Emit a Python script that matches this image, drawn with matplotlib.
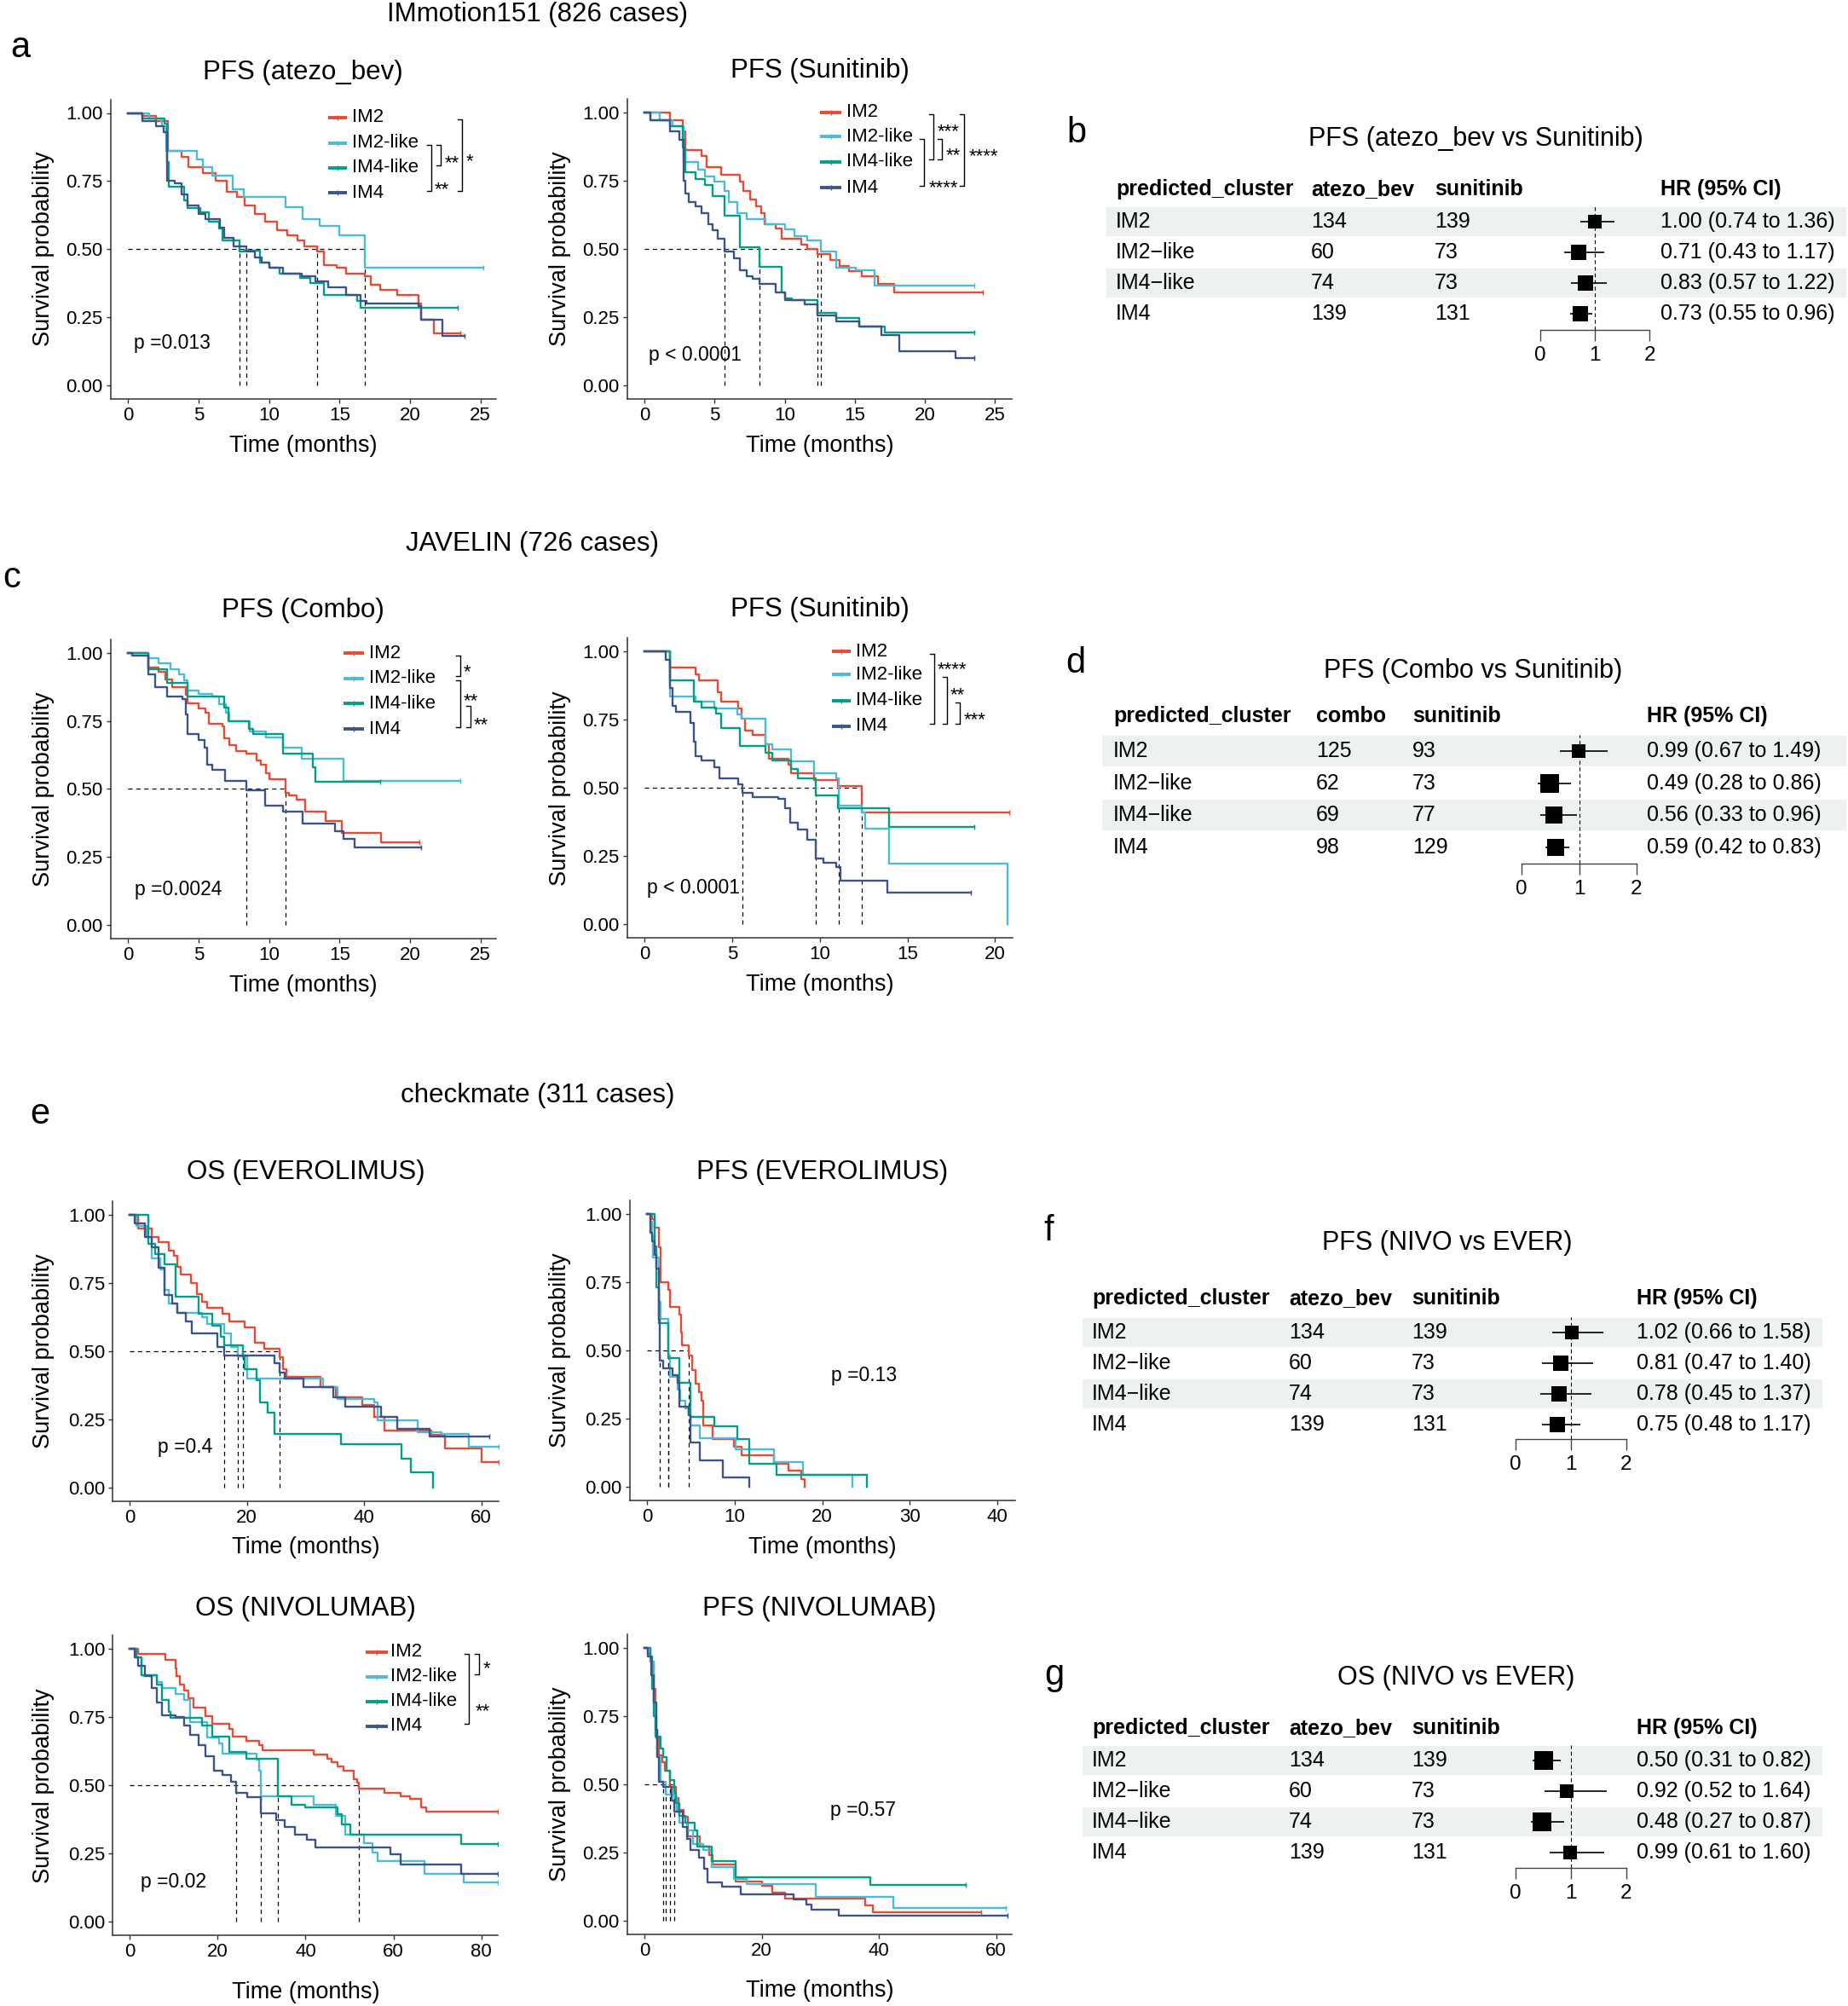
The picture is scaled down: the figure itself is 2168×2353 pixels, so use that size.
import numpy as np
import matplotlib
matplotlib.use("Agg")
import matplotlib.pyplot as plt

plt.rcParams['font.family'] = ['Liberation Sans', 'DejaVu Sans']

W, H = 2168, 2353

groups = ["IM2", "IM2-like", "IM4-like", "IM4"]
colors = ["#E64B35", "#4DBBD5", "#00A087", "#3C5488"]

# ---------------- KM step data: times (months) and survival, order = groups
# a: IMmotion151, PFS atezo_bev
a1_t = [
    [0, 1.0, 2.0, 2.8, 3.8, 4.3, 5.3, 6.2, 7.0, 7.7, 8.3, 9.0, 9.7, 10.6, 11.3, 12.0, 12.5, 13.4, 13.9, 14.8, 15.5, 16.8, 17.2, 17.9, 19.1, 20.6, 20.8, 21.7, 23.6],
    [0, 1.5, 2.4, 2.7, 4.9, 5.3, 6.0, 7.4, 8.2, 11.2, 12.4, 13.6, 15.0, 16.8, 25.2],
    [0, 1.0, 2.6, 2.75, 2.87, 3.95, 4.19, 5.14, 5.74, 6.46, 6.7, 7.9, 8.25, 9.33, 10.05, 10.77, 12.2, 12.92, 13.88, 16.27, 16.5, 23.4],
    [0, 1.0, 2.0, 2.5, 2.75, 3.3, 3.8, 4.2, 5.0, 5.5, 6.5, 6.8, 7.5, 8.4, 9.0, 9.5, 10.0, 11.0, 12.3, 13.3, 14.2, 15.5, 16.5, 16.9, 20.6, 20.8, 22.3, 23.9],
]
a1_s = [
    [1, .99, .97, .86, .84, .80, .78, .75, .71, .69, .66, .63, .60, .57, .55, .53, .51, .49, .44, .43, .41, .40, .37, .35, .33, .30, .24, .19, .19],
    [1, .98, .95, .86, .83, .80, .77, .72, .69, .655, .61, .585, .55, .43, .43],
    [1, .98, .96, .82, .73, .68, .65, .635, .60, .575, .53, .49, .495, .45, .43, .41, .395, .375, .33, .31, .285, .285],
    [1, .97, .95, .93, .75, .74, .70, .66, .63, .61, .58, .54, .51, .49, .47, .45, .43, .41, .40, .38, .36, .33, .31, .30, .29, .24, .18, .18],
]
a1_med = [13.4, 16.8, 7.9, 8.4]
a1_p = "p =0.013"
a1_sig = [(1, 2, "**"), (1, 3, "**"), (0, 3, "*")]

# a: IMmotion151, PFS Sunitinib
a2_t = [
    [0, 1.8, 2.7, 2.93, 4.07, 4.42, 5.45, 6.82, 7.05, 7.5, 7.96, 8.3, 8.54, 9.34, 9.8, 11.17, 11.62, 12.3, 13.23, 13.91, 14.6, 15.5, 16.66, 17.8, 24.1],
    [0, 1.1, 2.0, 2.8, 3.84, 4.3, 4.99, 5.68, 6.02, 6.59, 7.28, 8.65, 10.02, 10.71, 11.62, 12.55, 13.68, 15.06, 16.43, 23.5],
    [0, 0.4, 1.8, 2.7, 2.93, 3.62, 4.3, 4.87, 5.68, 6.82, 8.2, 9.79, 10.02, 10.48, 12.31, 13.68, 15.29, 17.12, 23.5],
    [0, 0.4, 1.8, 2.5, 2.8, 2.93, 3.16, 3.62, 4.07, 4.53, 4.87, 5.22, 5.7, 6.36, 6.82, 7.28, 7.73, 8.19, 9.34, 10.02, 11.4, 12.31, 13.68, 15.29, 16.89, 18.15, 22.15, 23.5],
]
a2_s = [
    [1, .97, .93, .86, .84, .80, .77, .745, .71, .68, .656, .63, .59, .573, .536, .516, .50, .48, .458, .437, .417, .40, .37, .339, .339],
    [1, .97, .95, .818, .79, .766, .745, .71, .67, .63, .609, .59, .57, .547, .53, .49, .43, .42, .365, .365],
    [1, .97, .95, .87, .78, .755, .734, .693, .62, .505, .432, .339, .318, .3125, .266, .245, .2135, .193, .193],
    [1, .97, .93, .90, .75, .703, .672, .656, .63, .59, .568, .536, .49, .464, .42, .40, .39, .37, .339, .3125, .297, .255, .234, .2135, .182, .125, .099, .099],
]
a2_med = [12.3, 12.55, 8.2, 5.7]
a2_p = "p < 0.0001"
a2_sig = [(1, 3, "****"), (0, 2, "***"), (1, 2, "**"), (0, 3, "****")]

# c: JAVELIN, PFS Combo
c1_t = [
    [0, 1.44, 2.15, 2.63, 3.11, 4.07, 4.19, 5.02, 5.5, 5.74, 6.7, 6.82, 7.18, 7.66, 8.37, 9.09, 9.45, 9.81, 10.05, 11.2, 11.4, 11.96, 12.56, 14.0, 15.19, 17.94, 20.7],
    [0, 1.44, 2.15, 2.99, 3.59, 3.95, 4.19, 5.02, 5.98, 6.46, 6.94, 7.18, 8.61, 9.81, 11.0, 12.32, 15.31, 23.56],
    [0, 1.44, 2.75, 4.19, 6.82, 7.1, 8.6, 8.9, 11.0, 13.1, 13.3, 17.9],
    [0, 0.3, 1.44, 1.9, 2.75, 3.83, 4.07, 4.19, 5.0, 5.4, 5.6, 6.0, 6.9, 8.4, 9.7, 11.0, 12.4, 14.7, 15.3, 16.1, 20.8],
]
c1_s = [
    [1, .947, .93, .903, .875, .847, .813, .796, .78, .74, .73, .685, .662, .64, .629, .606, .59, .556, .534, .485, .475, .461, .416, .383, .338, .304, .304],
    [1, .98, .96, .94, .92, .90, .86, .85, .84, .81, .78, .75, .71, .69, .65, .61, .53, .53],
    [1, .94, .89, .84, .80, .75, .72, .70, .63, .58, .525, .525],
    [1, .99, .92, .875, .84, .83, .774, .70, .68, .65, .59, .57, .528, .494, .44, .416, .374, .343, .315, .284, .284],
]
c1_med = [11.2, None, None, 8.4]
c1_p = "p =0.0024"
c1_sig = [(0, 1, "*"), (1, 3, "**"), (2, 3, "**")]

# c: JAVELIN, PFS Sunitinib
c2_t = [
    [0, 1.43, 2.9, 3.1, 4.17, 4.35, 5.36, 5.55, 5.73, 6.18, 6.9, 7.1, 8.2, 8.38, 9.66, 11.03, 12.4, 20.8],
    [0, 1.43, 2.9, 4.0, 5.3, 5.54, 6.92, 7.3, 8.38, 9.66, 10.94, 11.1, 12.4, 12.6, 13.96, 20.73],
    [0, 1.43, 2.8, 3.26, 4.08, 4.35, 5.45, 6.92, 7.3, 8.38, 8.75, 9.75, 11.03, 13.96, 18.8],
    [0, 1.2, 1.43, 1.6, 1.8, 2.6, 2.8, 2.9, 3.26, 3.99, 4.26, 5.36, 5.58, 6.18, 7.65, 8.0, 8.3, 8.75, 9.3, 9.75, 10.2, 10.94, 11.2, 13.87, 18.6],
]
c2_s = [
    [1, .94, .915, .894, .852, .816, .79, .753, .711, .696, .66, .607, .586, .555, .529, .508, .41, .41],
    [1, .836, .815, .79, .77, .753, .66, .64, .597, .555, .534, .435, .41, .352, .222, 0],
    [1, .894, .815, .795, .774, .72, .654, .628, .60, .57, .534, .472, .425, .357, .357],
    [1, .97, .868, .80, .78, .737, .67, .618, .60, .576, .534, .513, .482, .467, .46, .425, .373, .347, .31, .243, .227, .211, .159, .118, .118],
]
c2_med = [12.4, 11.1, 9.75, 5.58]
c2_p = "p < 0.0001"
c2_sig = [(0, 3, "****"), (1, 3, "**"), (2, 3, "***")]

# e: checkmate, OS everolimus
e1_t = [
    [0, 1.4, 3.7, 4.9, 6.6, 7.5, 8.1, 8.7, 10.4, 11.5, 12.4, 13.2, 15.8, 17.0, 19.6, 21.3, 23.0, 25.6, 26.2, 26.8, 32.5, 35.1, 39.7, 41.7, 43.4, 51.5, 53.8, 60.1, 62.9],
    [0, 1.2, 2.9, 3.7, 5.2, 6.0, 6.6, 8.1, 12.4, 13.2, 16.1, 17.3, 18.5, 20.1, 33.0, 35.4, 41.7, 42.3, 49.2, 53.2, 57.8, 62.9],
    [0, 3.2, 4.3, 6.0, 7.8, 11.8, 14.1, 15.5, 16.1, 19.3, 19.6, 21.6, 22.2, 23.6, 24.7, 36.0, 46.3, 48.0, 51.8],
    [0, 0.9, 2.6, 3.7, 4.9, 6.0, 7.2, 8.1, 9.5, 10.6, 15.0, 16.1, 24.7, 25.6, 26.5, 29.6, 34.8, 36.8, 42.9, 45.7, 51.2, 61.3],
]
e1_s = [
    [1, .95, .92, .90, .87, .85, .81, .78, .75, .71, .68, .66, .636, .61, .587, .532, .51, .477, .434, .406, .368, .33, .302, .258, .209, .193, .143, .094, .094],
    [1, .96, .92, .84, .80, .724, .675, .642, .625, .60, .565, .516, .48, .40, .368, .324, .313, .247, .204, .198, .149, .149],
    [1, .894, .855, .817, .70, .636, .593, .554, .521, .478, .434, .395, .313, .275, .198, .16, .105, .056, 0],
    [1, .97, .92, .88, .806, .707, .675, .642, .609, .565, .516, .483, .455, .423, .40, .368, .33, .297, .258, .215, .187, .187],
]
e1_med = [25.6, 18.5, 19.3, 16.1]
e1_p = "p =0.4"

# e: checkmate, PFS everolimus
e2_t = [
    [0, 0.55, 0.9, 1.3, 1.5, 2.4, 2.6, 3.7, 3.9, 4.0, 4.8, 5.1, 5.5, 5.9, 6.2, 6.4, 7.5, 9.9, 10.8, 14.5, 16.1, 17.6, 18.0],
    [0, 0.4, 0.55, 0.7, 1.3, 1.5, 2.45, 2.6, 3.5, 3.8, 4.4, 4.8, 4.9, 6.0, 10.1, 14.5, 17.8, 23.4],
    [0, 0.9, 1.1, 1.3, 2.4, 3.7, 4.9, 7.7, 10.3, 11.7, 14.8, 25.1],
    [0, 0.4, 0.55, 0.9, 1.1, 1.3, 1.4, 1.8, 2.9, 3.5, 3.7, 4.8, 4.9, 6.0, 8.6, 11.7],
]
e2_s = [
    [1, .98, .95, .876, .75, .72, .657, .63, .564, .517, .48, .428, .376, .345, .314, .225, .173, .147, .116, .084, .058, .027, 0],
    [1, .97, .918, .84, .678, .616, .48, .402, .355, .314, .2875, .261, .225, .178, .136, .09, .043, 0],
    [1, .88, .73, .60, .47, .38, .256, .22, .173, .084, .043, 0],
    [1, .93, .90, .85, .80, .61, .46, .433, .407, .381, .293, .261, .1625, .095, .032, 0],
]
e2_med = [4.8, 2.45, 2.4, 1.4]
e2_p = "p =0.13"

# e: checkmate, OS nivolumab
e3_t = [
    [0, 1.9, 8.05, 10.35, 10.7, 11.5, 12.3, 13.4, 14.6, 17.3, 18.8, 22.6, 23.4, 26.5, 29.5, 30.3, 41.8, 44.9, 46.0, 47.2, 48.7, 51.0, 51.8, 52.1, 57.9, 61.7, 63.7, 66.3, 67.5, 83.8],
    [0, 1.5, 2.7, 6.1, 7.3, 10.4, 12.3, 13.8, 17.6, 20.3, 21.1, 28.9, 29.5, 29.9, 30.3, 41.8, 46.8, 49.1, 53.3, 55.2, 56.4, 67.1, 75.9, 83.8],
    [0, 1.5, 2.7, 6.1, 7.3, 8.8, 9.2, 16.5, 18.8, 22.6, 26.5, 33.7, 36.8, 39.9, 47.2, 48.3, 50.2, 75.5, 83.8],
    [0, 1.1, 1.9, 3.5, 5.0, 6.1, 7.3, 10.4, 12.3, 13.8, 15.7, 17.3, 19.2, 21.1, 23.0, 24.2, 26.8, 29.9, 33.4, 35.3, 37.6, 40.3, 42.2, 59.4, 61.7, 75.5, 83.8],
]
e3_s = [
    [1, .982, .96, .93, .90, .87, .847, .82, .784, .753, .727, .706, .68, .665, .649, .628, .6125, .597, .586, .57, .555, .524, .51, .4875, .472, .46, .451, .42, .404, .404],
    [1, .97, .904, .878, .857, .836, .815, .732, .675, .654, .617, .596, .555, .46, .46, .43, .39, .32, .29, .253, .222, .175, .144, .144],
    [1, .97, .904, .87, .815, .769, .748, .72, .68, .623, .597, .46, .43, .42, .394, .357, .32, .284, .284],
    [1, .97, .94, .90, .857, .805, .758, .75, .72, .685, .649, .607, .555, .54, .513, .472, .456, .399, .373, .347, .32, .30, .274, .248, .211, .175, .175],
]
e3_med = [52.1, 29.9, 33.7, 24.2]
e3_p = "p =0.02"
e3_sig = [(0, 1, "*"), (0, 3, "**")]

# e: checkmate, PFS nivolumab
e4_t = [
    [0, 0.5, 1.0, 1.5, 1.8, 2.0, 2.4, 3.0, 3.5, 4.3, 5.3, 5.8, 6.7, 7.4, 9.5, 11.0, 11.6, 15.5, 20.1, 21.8, 24.0, 37.7, 39.0, 57.4],
    [0, 1.0, 1.5, 1.8, 2.2, 2.8, 3.6, 5.0, 5.5, 6.0, 7.2, 8.3, 10.0, 11.4, 15.2, 17.5, 29.2, 42.5, 61.7],
    [0, 1.0, 1.3, 1.6, 1.9, 2.7, 3.2, 3.8, 4.3, 5.0, 5.3, 6.0, 7.0, 8.5, 9.0, 11.4, 15.6, 38.6, 54.9],
    [0, 0.5, 1.2, 1.5, 2.0, 2.2, 2.4, 3.1, 4.6, 5.0, 6.5, 7.2, 7.8, 9.3, 10.2, 10.8, 13.2, 16.4, 25.4, 27.6, 28.5, 33.2, 62.0],
]
e4_s = [
    [1, .98, .95, .85, .75, .67, .608, .58, .55, .49, .45, .405, .38, .31, .27, .24, .207, .144, .128, .102, .081, .055, .031, .031],
    [1, .95, .80, .70, .60, .51, .462, .45, .40, .36, .33, .28, .26, .196, .154, .134, .087, .045, .045],
    [1, .97, .85, .75, .676, .63, .60, .55, .515, .47, .43, .384, .36, .33, .27, .217, .16, .1315, .1315],
    [1, .97, .90, .80, .70, .60, .51, .49, .44, .40, .342, .30, .259, .23, .19, .139, .123, .097, .076, .06, .04, .019, .019],
]
e4_med = [4.3, 3.6, 5.0, 3.1]
e4_p = "p =0.57"

# ---------------- forest plot data
b_n1 = [134, 60, 74, 139]
b_n2 = [139, 73, 73, 131]
b_hr = [1.00, 0.71, 0.83, 0.73]
b_lo = [0.74, 0.43, 0.57, 0.55]
b_hi = [1.36, 1.17, 1.22, 0.96]

d_n1 = [125, 62, 69, 98]
d_n2 = [93, 73, 77, 129]
d_hr = [0.99, 0.49, 0.56, 0.59]
d_lo = [0.67, 0.28, 0.33, 0.42]
d_hi = [1.49, 0.86, 0.96, 0.83]

f_n1 = [134, 60, 74, 139]
f_n2 = [139, 73, 73, 131]
f_hr = [1.02, 0.81, 0.78, 0.75]
f_lo = [0.66, 0.47, 0.45, 0.48]
f_hi = [1.58, 1.40, 1.37, 1.17]

g_n1 = [134, 60, 74, 139]
g_n2 = [139, 73, 73, 131]
g_hr = [0.50, 0.92, 0.48, 0.99]
g_lo = [0.31, 0.52, 0.27, 0.61]
g_hi = [0.82, 1.64, 0.87, 1.60]

# ---------------- figure
fig = plt.figure(figsize=(W / 100, H / 100), dpi=100)
fig.patch.set_facecolor("white")


def px_axes(left, top, right, bottom):
    return fig.add_axes([left / W, 1 - bottom / H, (right - left) / W, (bottom - top) / H])


def ftext(x, y, s, **kw):
    fig.text(x / W, 1 - y / H, s, **kw)


km_panels = [
    dict(t=a1_t, s=a1_s, med=a1_med, p=a1_p, title="PFS (atezo_bev)",
         x0=150.3, xr=563.5, tref=25, xlim=(-1.25, 26.1), y1=132.5, y0=451.6,
         xticks=[0, 5, 10, 15, 20, 25], ty=85, ylx=51, xly=523, ppos=(0.43, 0.153),
         leg=(14.2, 15.55, 15.9, [.983, .889, .798, .706]), sig=a1_sig,
         brk=[(22.2, 22.5, .839), (21.5, 21.75, .74), (23.7, 24.0, .845)]),
    dict(t=a2_t, s=a2_s, med=a2_med, p=a2_p, title="PFS (Sunitinib)",
         x0=756.2, xr=1167.4, tref=25, xlim=(-1.24, 26.2), y1=131.7, y0=451.7,
         xticks=[0, 5, 10, 15, 20, 25], ty=83, ylx=657, xly=523, ppos=(0.3, 0.109),
         leg=(12.54, 14.03, 14.37, [1.0, .911, .818, .724]), sig=a2_sig,
         brk=[(19.9, 20.25, .745), (20.6, 20.9, .953), (21.2, 21.5, .865), (22.8, 23.15, .861)]),
    dict(t=c1_t, s=c1_s, med=c1_med, p=c1_p, title="PFS (Combo)",
         x0=150.3, xr=563.5, tref=25, xlim=(-1.25, 26.1), y1=765.7, y0=1085,
         xticks=[0, 5, 10, 15, 20, 25], ty=716, ylx=51, xly=1156, ppos=(0.48, 0.131),
         leg=(15.3, 16.75, 17.1, [.998, .906, .813, .72]), sig=c1_sig,
         brk=[(23.56, 23.8, .953), (23.56, 23.8, .847), (24.3, 24.55, .757)]),
    dict(t=c2_t, s=c2_s, med=c2_med, p=c2_p, title="PFS (Sunitinib)",
         x0=756.2, xr=1167.4, tref=20, xlim=(-1.0, 21.0), y1=764.3, y0=1084.3,
         xticks=[0, 5, 10, 15, 20], ty=715, ylx=657, xly=1155, ppos=(0.15, 0.133),
         leg=(10.67, 11.77, 12.04, [1.0, .915, .82, .727]), sig=c2_sig,
         brk=[(16.52, 16.7, .958), (17.26, 17.45, .8625), (17.99, 18.2, .774)]),
    dict(t=e1_t, s=e1_s, med=e1_med, p=e1_p, title="OS (EVEROLIMUS)",
         x0=152.2, xr=564.7, tref=60, xlim=(-2.9, 62.9), y1=1424.9, y0=1745.1,
         xticks=[0, 20, 40, 60], ty=1375, ylx=51, xly=1815, ppos=(4.7, 0.149)),
    dict(t=e2_t, s=e2_s, med=e2_med, p=e2_p, title="PFS (EVEROLIMUS)",
         x0=759.2, xr=1170, tref=40, xlim=(-1.98, 42.05), y1=1423.7, y0=1743.7,
         xticks=[0, 10, 20, 30, 40], ty=1375, ylx=657, xly=1815, ppos=(21.06, 0.407)),
    dict(t=e3_t, s=e3_s, med=e3_med, p=e3_p, title="OS (NIVOLUMAB)",
         x0=152.2, xr=564.7, tref=80, xlim=(-3.85, 83.8), y1=1934.3, y0=2254.3,
         xticks=[0, 20, 40, 60, 80], ty=1887, ylx=51, xly=2337, ppos=(2.5, 0.147),
         leg=(53.7, 58.7, 59.4, [.99, .899, .808, .717]), sig=e3_sig,
         brk=[(79.5, 80.4, .951), (77.1, 78.6, .795)]),
    dict(t=e4_t, s=e4_s, med=e4_med, p=e4_p, title="PFS (NIVOLUMAB)",
         x0=756.2, xr=1168.5, tref=60, xlim=(-2.96, 62.7), y1=1933.3, y0=2252.7,
         xticks=[0, 20, 40, 60], ty=1887, ylx=657, xly=2335, ppos=(31.7, 0.405)),
]

AX_COL = "#333333"
for p in km_panels:
    ppu = (p['xr'] - p['x0']) / p['tref']
    left = p['x0'] + p['xlim'][0] * ppu
    right = p['x0'] + p['xlim'][1] * ppu
    ypu = p['y0'] - p['y1']
    top = p['y1'] - 0.05 * ypu
    bottom = p['y0'] + 0.05 * ypu
    ax = px_axes(left, top, right, bottom)
    ax.set_xlim(p['xlim'])
    ax.set_ylim(-0.05, 1.05)
    for sp in ['top', 'right']:
        ax.spines[sp].set_visible(False)
    for sp in ['left', 'bottom']:
        ax.spines[sp].set_color(AX_COL)
        ax.spines[sp].set_linewidth(1.1)
    ax.set_xticks(p['xticks'])
    ax.set_yticks([0, 0.25, 0.5, 0.75, 1.0])
    ax.set_yticklabels(["0.00", "0.25", "0.50", "0.75", "1.00"])
    ax.tick_params(labelsize=16, length=3.5, width=1, color=AX_COL, pad=3)

    for k in range(4):
        tt, ss = p['t'][k], p['s'][k]
        ax.step(tt, ss, where='post', color=colors[k], lw=1.7, zorder=3)
        if ss[-1] > 0:
            ax.plot(tt[-1], ss[-1], marker='|', ms=5, mew=1, color=colors[k], zorder=3)

    meds = [m for m in p['med'] if m is not None]
    dash = (0, (4, 3.5))
    ax.plot([0, max(meds)], [0.5, 0.5], ls=dash, color='black', lw=0.9, zorder=2)
    for m in meds:
        ax.plot([m, m], [0, 0.5], ls=dash, color='black', lw=0.9, zorder=2)

    ax.text(p['ppos'][0], p['ppos'][1], p['p'], fontsize=16.5, ha='left', va='center')

    if 'leg' in p:
        lx0, lx1, ltx, lys = p['leg']
        for k in range(4):
            ax.plot([lx0, lx1], [lys[k], lys[k]], color=colors[k], lw=2.8,
                    solid_capstyle='butt', clip_on=False)
            ax.plot([(lx0 + lx1) / 2], [lys[k]], marker='|', ms=5, mew=1,
                    color=colors[k], clip_on=False)
            ax.text(ltx, lys[k], groups[k], fontsize=16, ha='left', va='center')
        tick = 5 / ppu
        gap = 2.5 / ypu
        for (i, j, lab), (bx, tx, ty) in zip(p['sig'], p['brk']):
            ya, yb = lys[i] - gap, lys[j] + gap
            ax.plot([bx - tick, bx, bx, bx - tick], [ya, ya, yb, yb],
                    color='black', lw=1.0, clip_on=False)
            ax.annotate(lab, (tx, ty), xytext=(0, -9.5), textcoords='offset points',
                        fontsize=16, ha='left', va='baseline')

    cx = (left + right) / 2
    ftext(cx, p['ty'], p['title'], fontsize=22.5, ha='center', va='center')
    ftext(p['ylx'], (top + bottom) / 2, "Survival probability", fontsize=19.5,
          rotation=90, ha='center', va='center')
    ftext(cx, p['xly'], "Time (months)", fontsize=19.5, ha='center', va='center')

# dataset titles and panel letters
ftext(630, 17, "IMmotion151 (826 cases)", fontsize=22.5, ha='center', va='center')
ftext(624, 638, "JAVELIN (726 cases)", fontsize=22.5, ha='center', va='center')
ftext(631, 1285, "checkmate (311 cases)", fontsize=22.5, ha='center', va='center')
for lab, (lx, ly) in {"a": (24, 56), "c": (14, 678), "e": (47, 1307)}.items():
    ftext(lx, ly, lab, fontsize=30, ha='center', va='center')

# ---------------- forest plots
forest_panels = [
    dict(letter="b", lpos=(1263, 156), title="PFS (atezo_bev vs Sunitinib)", tpos=(1731, 163),
         heads=["predicted_cluster", "atezo_bev", "sunitinib", "HR (95% CI)"],
         header_y=222, row0=260, step=36, cols=[1309, 1538, 1683, 1948], band=(1298, 2166),
         hrx=(1807, 1935), axis_y=387, n1=b_n1, n2=b_n2, hr=b_hr, lo=b_lo, hi=b_hi),
    dict(letter="d", lpos=(1262, 778), title="PFS (Combo vs Sunitinib)", tpos=(1728, 787),
         heads=["predicted_cluster", "combo", "sunitinib", "HR (95% CI)"],
         header_y=840, row0=881, step=37.7, cols=[1306, 1544, 1657, 1932], band=(1293, 2166),
         hrx=(1785, 1920), axis_y=1013, n1=d_n1, n2=d_n2, hr=d_hr, lo=d_lo, hi=d_hi),
    dict(letter="f", lpos=(1230, 1444), title="PFS (NIVO vs EVER)", tpos=(1698, 1458),
         heads=["predicted_cluster", "atezo_bev", "sunitinib", "HR (95% CI)"],
         header_y=1523, row0=1563, step=36, cols=[1281, 1512, 1656, 1920], band=(1270, 2138),
         hrx=(1778, 1908), axis_y=1688, n1=f_n1, n2=f_n2, hr=f_hr, lo=f_lo, hi=f_hi),
    dict(letter="g", lpos=(1237, 1965), title="OS (NIVO vs EVER)", tpos=(1708, 1968),
         heads=["predicted_cluster", "atezo_bev", "sunitinib", "HR (95% CI)"],
         header_y=2027, row0=2065, step=36, cols=[1281, 1512, 1656, 1920], band=(1270, 2138),
         hrx=(1778, 1908), axis_y=2191, n1=g_n1, n2=g_n2, hr=g_hr, lo=g_lo, hi=g_hi),
]

BAND = "#EDF1F0"
row_labels = [g.replace("-", "\u2212") for g in groups]
for fp in forest_panels:
    top_px = fp['row0'] - fp['step'] / 2
    ybot = (fp['axis_y'] - fp['row0']) / fp['step']
    bx0, bx1 = fp['band']
    axt = px_axes(bx0, top_px, bx1, fp['axis_y'])
    axt.set_xlim(0, 1)
    axt.set_ylim(ybot, -0.5)
    axt.axis('off')
    for i in (0, 2):
        axt.axhspan(i - 0.48, i + 0.48, color=BAND, lw=0)

    ftext(fp['lpos'][0], fp['lpos'][1], fp['letter'], fontsize=30, ha='center', va='center')
    ftext(fp['tpos'][0], fp['tpos'][1], fp['title'], fontsize=22, ha='center', va='center')
    for c, h in zip(fp['cols'], fp['heads']):
        ftext(c, fp['header_y'], h, fontsize=18, fontweight='bold', ha='left', va='center')
    for i in range(4):
        y = fp['row0'] + i * fp['step']
        cells = [row_labels[i], str(fp['n1'][i]), str(fp['n2'][i]),
                 f"{fp['hr'][i]:.2f} ({fp['lo'][i]:.2f} to {fp['hi'][i]:.2f})"]
        for c, txt in zip(fp['cols'], cells):
            ftext(c, y, txt, fontsize=18, ha='left', va='center')

    hx0, hx2 = fp['hrx']
    u = (hx2 - hx0) / 2
    axh = px_axes(hx0 - 0.5 * u, top_px, hx2 + 0.5 * u, fp['axis_y'])
    axh.set_xlim(-0.5, 2.5)
    axh.set_ylim(ybot, -0.5)
    axh.patch.set_alpha(0)
    for sp in ['top', 'right', 'left']:
        axh.spines[sp].set_visible(False)
    axh.spines['bottom'].set_bounds(0, 2)
    axh.spines['bottom'].set_color('#444444')
    axh.spines['bottom'].set_linewidth(1.0)
    axh.set_yticks([])
    axh.set_xticks([0, 1, 2])
    axh.tick_params(axis='x', direction='out', length=9, width=1.0, color='#444444',
                    labelsize=17.5, pad=5)
    axh.axvline(1, ls=(0, (4, 3)), color='black', lw=0.8)
    rows = np.arange(4)
    axh.hlines(rows, fp['lo'], fp['hi'], color='black', lw=1.2)
    for i in range(4):
        axh.plot(fp['hr'][i], i, marker='s', ms=11.2 / np.sqrt(fp['hr'][i]),
                 color='black', mew=0)

fig.savefig("out.png", dpi=100, facecolor="white")
